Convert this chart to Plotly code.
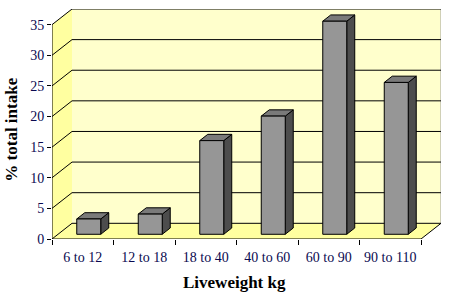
import plotly.graph_objects as go

categories = ["6 to 12", "12 to 18", "18 to 40", "40 to 60", "60 to 90", "90 to 110"]
intake = [2.5, 3.3, 15.3, 19.3, 34.8, 24.8]
y_ticks = [0, 5, 10, 15, 20, 25, 30, 35]

W, H = 456, 294
ML, MR, MT, MB = 52, 15, 9, 55
n = len(categories)
y_top = y_ticks[-1]
plot_w = W - ML - MR
plot_h = H - MT - MB
depth_px = (20, 15.7)
cat_px = (plot_w - depth_px[0]) / n
val_px = (plot_h - depth_px[1]) / y_top
DX = depth_px[0] / cat_px
DY = depth_px[1] / val_px
x0, x1 = -0.5, n - 0.5
xr = [x0, x0 + plot_w / cat_px]
yr = [0, plot_h / val_px]

BACK = "#FFFFCC"
SIDE = "#FFFFA0"
FLOOR = "#FFFFA0"
BAR_FRONT = "#969696"
BAR_SIDE = "#4D4D4D"
BAR_TOP = "#7A7A7A"

fig = go.Figure()


def poly(xs, ys, fill=None, line="black", width=1):
    fig.add_trace(go.Scatter(
        x=list(xs) + ([xs[0]] if fill else []),
        y=list(ys) + ([ys[0]] if fill else []),
        mode="lines",
        fill="toself" if fill else None,
        fillcolor=fill,
        line=dict(color=line, width=width),
        hoverinfo="skip", showlegend=False))


# back wall
poly([x0 + DX, x1 + DX, x1 + DX, x0 + DX], [DY, DY, y_top + DY, y_top + DY], fill=BACK, line=BACK, width=0)
# left side wall
poly([x0, x0 + DX, x0 + DX, x0], [0, DY, y_top + DY, y_top], fill=SIDE, line=SIDE, width=0)
# floor
poly([x0, x1, x1 + DX, x0 + DX], [0, 0, DY, DY], fill=FLOOR, line=FLOOR, width=0)
# right edge of back wall
poly([x1 + DX, x1 + DX], [DY, y_top + DY], line="#A0A0A0")
# gridlines (side + back)
for v in y_ticks:
    poly([x0, x0 + DX, x1 + DX], [v, v + DY, v + DY])
# right floor edge
poly([x1, x1 + DX], [0, DY])
# front axes
poly([x0, x0], [0, y_top])
poly([x0, x1], [0, 0])

# bars
bw = 0.39
f, b = 0.3, 0.7
for i, v in enumerate(intake):
    xl = i - bw / 2 + f * DX
    xrt = i + bw / 2 + f * DX
    yb = f * DY
    ddx = (b - f) * DX
    ddy = (b - f) * DY
    # side face
    poly([xrt, xrt + ddx, xrt + ddx, xrt], [yb, yb + ddy, yb + v + ddy, yb + v], fill=BAR_SIDE)
    # top face
    poly([xl, xrt, xrt + ddx, xl + ddx], [yb + v, yb + v, yb + v + ddy, yb + v + ddy], fill=BAR_TOP)
    # front face
    poly([xl, xrt, xrt, xl], [yb, yb, yb + v, yb + v], fill=BAR_FRONT)

tick_font = dict(family="Liberation Serif", size=14, color="#0A0A50")

fig.update_layout(
    width=W, height=H,
    margin=dict(l=ML, r=MR, t=MT, b=MB, pad=0),
    paper_bgcolor="white", plot_bgcolor="white",
    showlegend=False,
    xaxis=dict(range=xr, tickmode="array", tickvals=list(range(n)), ticktext=categories,
               ticks="", showgrid=False, zeroline=False, showline=False,
               ticklabelstandoff=8,
               tickfont=tick_font, fixedrange=True),
    xaxis2=dict(range=xr, overlaying="x", side="bottom", anchor="y", tickmode="array",
                tickvals=[x0 + k for k in range(n + 1)], ticks="outside", ticklen=5,
                tickcolor="black", tickwidth=1, showticklabels=False, showgrid=False,
                zeroline=False, showline=False, fixedrange=True),
    yaxis=dict(range=yr, tickmode="array", tickvals=y_ticks, ticks="outside", ticklen=4,
               tickcolor="black", tickwidth=1, showgrid=False, zeroline=False,
               showline=False, tickfont=tick_font, fixedrange=True),
    annotations=[
        dict(text="<b>Liveweight kg</b>", xref="paper", yref="paper", x=0.47, y=-0.19,
             xanchor="center", yanchor="middle", showarrow=False,
             font=dict(family="Liberation Serif", size=17, color="black")),
        dict(text="<b>% total intake</b>", xref="paper", yref="paper", x=-0.103, y=0.475,
             xanchor="center", yanchor="middle", showarrow=False, textangle=-90,
             font=dict(family="Liberation Serif", size=17, color="black")),
    ],
)
fig.add_trace(go.Scatter(x=[None], y=[None], xaxis="x2", showlegend=False, hoverinfo="skip"))

fig.write_html("out.html")
